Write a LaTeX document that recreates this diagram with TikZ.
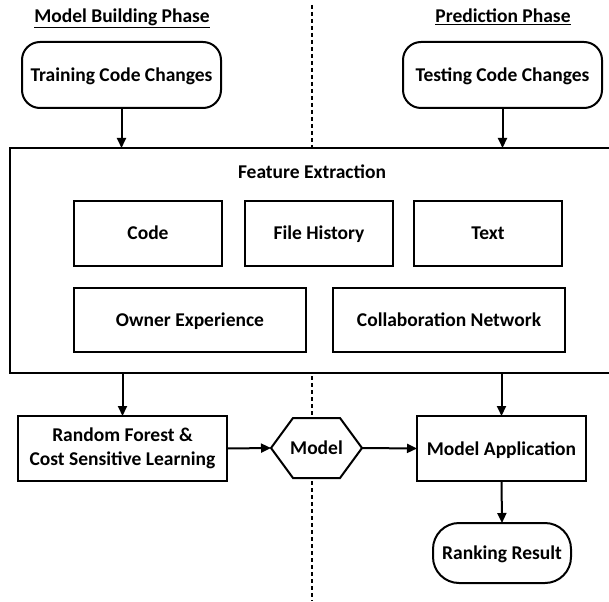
\documentclass[tikz,border=0pt]{standalone}
\usepackage{fontspec}
\setmainfont{Carlito}
\usetikzlibrary{arrows.meta}
\begin{document}
\begin{tikzpicture}[x=1pt,y=-1pt,
  every node/.style={font=\fontsize{19.5}{23.5}\selectfont\bfseries, inner sep=0pt, outer sep=0pt, text height=14pt, text depth=1pt},
  box/.style={draw=black, line width=2pt, fill=white, align=center},
  rbox/.style={box, rounded corners=18pt},
  arr/.style={draw=black, line width=2pt, -{Triangle[length=10pt,width=9pt]}},
  sep/.style={draw=black, line width=2pt, dash pattern=on 4pt off 3pt}]
\useasboundingbox (0,0) rectangle (609,601);
% separator
\coordinate (st) at (312,5);
\coordinate (sb) at (312,601);
\draw[sep] (st) -- (sb);
% headers
\node (h1) at (122,16) {\underline{Model Building Phase}};
\node (h2) at (503,16) {\underline{Prediction Phase}};
% inputs
\node[rbox, minimum width=199pt, minimum height=66pt] (train) at (121.5,75) {Training Code Changes};
\node[rbox, minimum width=199pt, minimum height=66pt] (test) at (502.5,75) {Testing Code Changes};
% feature extraction
\node[box, minimum width=605pt, minimum height=225pt] (fe) at (312.5,260.5) {};
\node (fet) at (312,172) {Feature Extraction};
\node[box, minimum width=148pt, minimum height=65pt] (code) at (148,233.5) {Code};
\node[box, minimum width=148pt, minimum height=65pt] (fh) at (319,233.5) {File History};
\node[box, minimum width=148pt, minimum height=65pt] (txt) at (488,233.5) {Text};
\node[box, minimum width=232pt, minimum height=64pt] (own) at (190,320) {Owner Experience};
\node[box, minimum width=232pt, minimum height=64pt] (col) at (449,320) {Collaboration Network};
% lower part
\node[box, text height={}, text depth={}, minimum width=209pt, minimum height=65pt] (rf) at (122.5,448.5) {Random Forest \&\\Cost Sensitive Learning};
\node[minimum width=91pt, minimum height=60pt] (model) at (316.5,448) {};
\draw[line width=2pt, fill=white, line join=miter]
  (model.west) -- ([xshift=22pt]model.north west) -- ([xshift=-22pt]model.north east)
  -- (model.east) -- ([xshift=-22pt]model.south east) -- ([xshift=22pt]model.south west) -- cycle;
\node (modelt) at (model.center) {Model};
\node[box, minimum width=169pt, minimum height=65pt] (ma) at (501.5,448.5) {Model Application};
\node[box, rounded corners=26pt, minimum width=138pt, minimum height=60pt] (rank) at (502,553) {Ranking Result};
% arrows
\draw[arr] (train.south) -- (train.south |- fe.north);
\draw[arr] (test.south) -- (test.south |- fe.north);
\draw[arr] (rf.north |- fe.south) -- (rf.north);
\draw[arr] (ma.north |- fe.south) -- (ma.north);
\draw[arr] (rf.east) -- (model.west);
\draw[arr] (model.east) -- (ma.west);
\draw[arr] (ma.south) -- (rank.north);
\end{tikzpicture}
\end{document}
